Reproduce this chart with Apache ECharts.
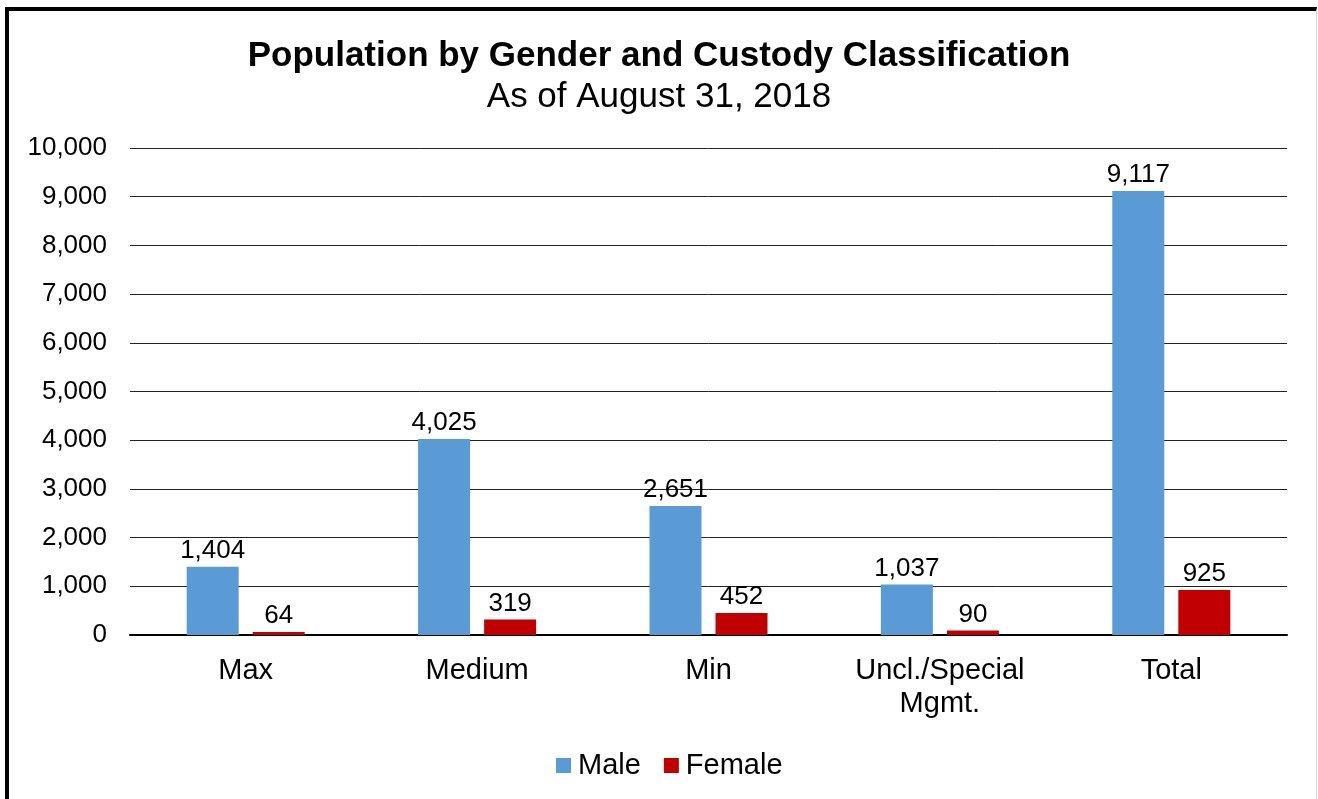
<!DOCTYPE html>
<html>
<head>
<meta charset="utf-8">
<script src="https://cdn.jsdelivr.net/npm/echarts@6/dist/echarts.min.js"></script>
<style>
  html, body { margin: 0; padding: 0; background: #fff; overflow: hidden; }
  #frame {
    position: absolute; left: 5px; top: 7px; width: 1307px; height: 800px;
    border-left: 4px solid #000; border-top: 4px solid #000; border-right: 1px solid #d9d9d9;
  }
  #chart { position: absolute; left: 0; top: 0; width: 1318px; height: 799px; }
</style>
</head>
<body>
<div id="frame"></div>
<div id="chart"></div>
<script>
var categories = ['Max', 'Medium', 'Min', 'Uncl./Special\nMgmt.', 'Total'];
var maleValues = [1404, 4025, 2651, 1037, 9117];
var femaleValues = [64, 319, 452, 90, 925];

var font = '"Liberation Sans", Arial, sans-serif';
var chart = echarts.init(document.getElementById('chart'));
var labelStyle = {
    show: true,
    position: 'top',
    distance: 3,
    color: '#000',
    fontSize: 26,
    fontFamily: font,
    formatter: function (p) { return p.value.toLocaleString('en-US'); }
};
chart.setOption({
    animation: false,
    title: {
        text: 'Population by Gender and Custody Classification',
        subtext: 'As of August 31, 2018',
        left: 'center',
        top: 34,
        itemGap: 6,
        textStyle: { fontSize: 35, fontWeight: 'bold', color: '#000', fontFamily: font },
        subtextStyle: { fontSize: 35, color: '#000', fontFamily: font }
    },
    legend: {
        data: ['Male', 'Female'],
        left: 551,
        top: 746,
        itemWidth: 15,
        itemHeight: 15,
        itemGap: 23,
        icon: 'rect',
        textStyle: { fontSize: 29, color: '#000', fontFamily: font, padding: [0, 0, 0, 2] }
    },
    grid: { left: 130, right: 31, top: 148, bottom: 164 },
    xAxis: {
        type: 'category',
        data: categories,
        axisLine: { lineStyle: { color: '#000', width: 2 } },
        axisTick: { show: false },
        axisLabel: { color: '#000', fontSize: 29, fontFamily: font, margin: 19, lineHeight: 33 }
    },
    yAxis: {
        type: 'value',
        min: 0,
        max: 10000,
        interval: 1000,
        axisLine: { show: false },
        axisTick: { show: false },
        splitLine: { lineStyle: { color: '#222', width: 1 } },
        axisLabel: {
            color: '#000', fontSize: 26, fontFamily: font, margin: 23,
            formatter: function (v) { return v.toLocaleString('en-US'); }
        }
    },
    series: [
        {
            name: 'Male', type: 'bar', data: maleValues,
            barWidth: 52, barGap: '27%',
            itemStyle: { color: '#5B9BD5' },
            label: labelStyle
        },
        {
            name: 'Female', type: 'bar', data: femaleValues,
            barWidth: 52,
            itemStyle: { color: '#C00000' },
            label: labelStyle
        }
    ]
});
</script>
</body>
</html>
